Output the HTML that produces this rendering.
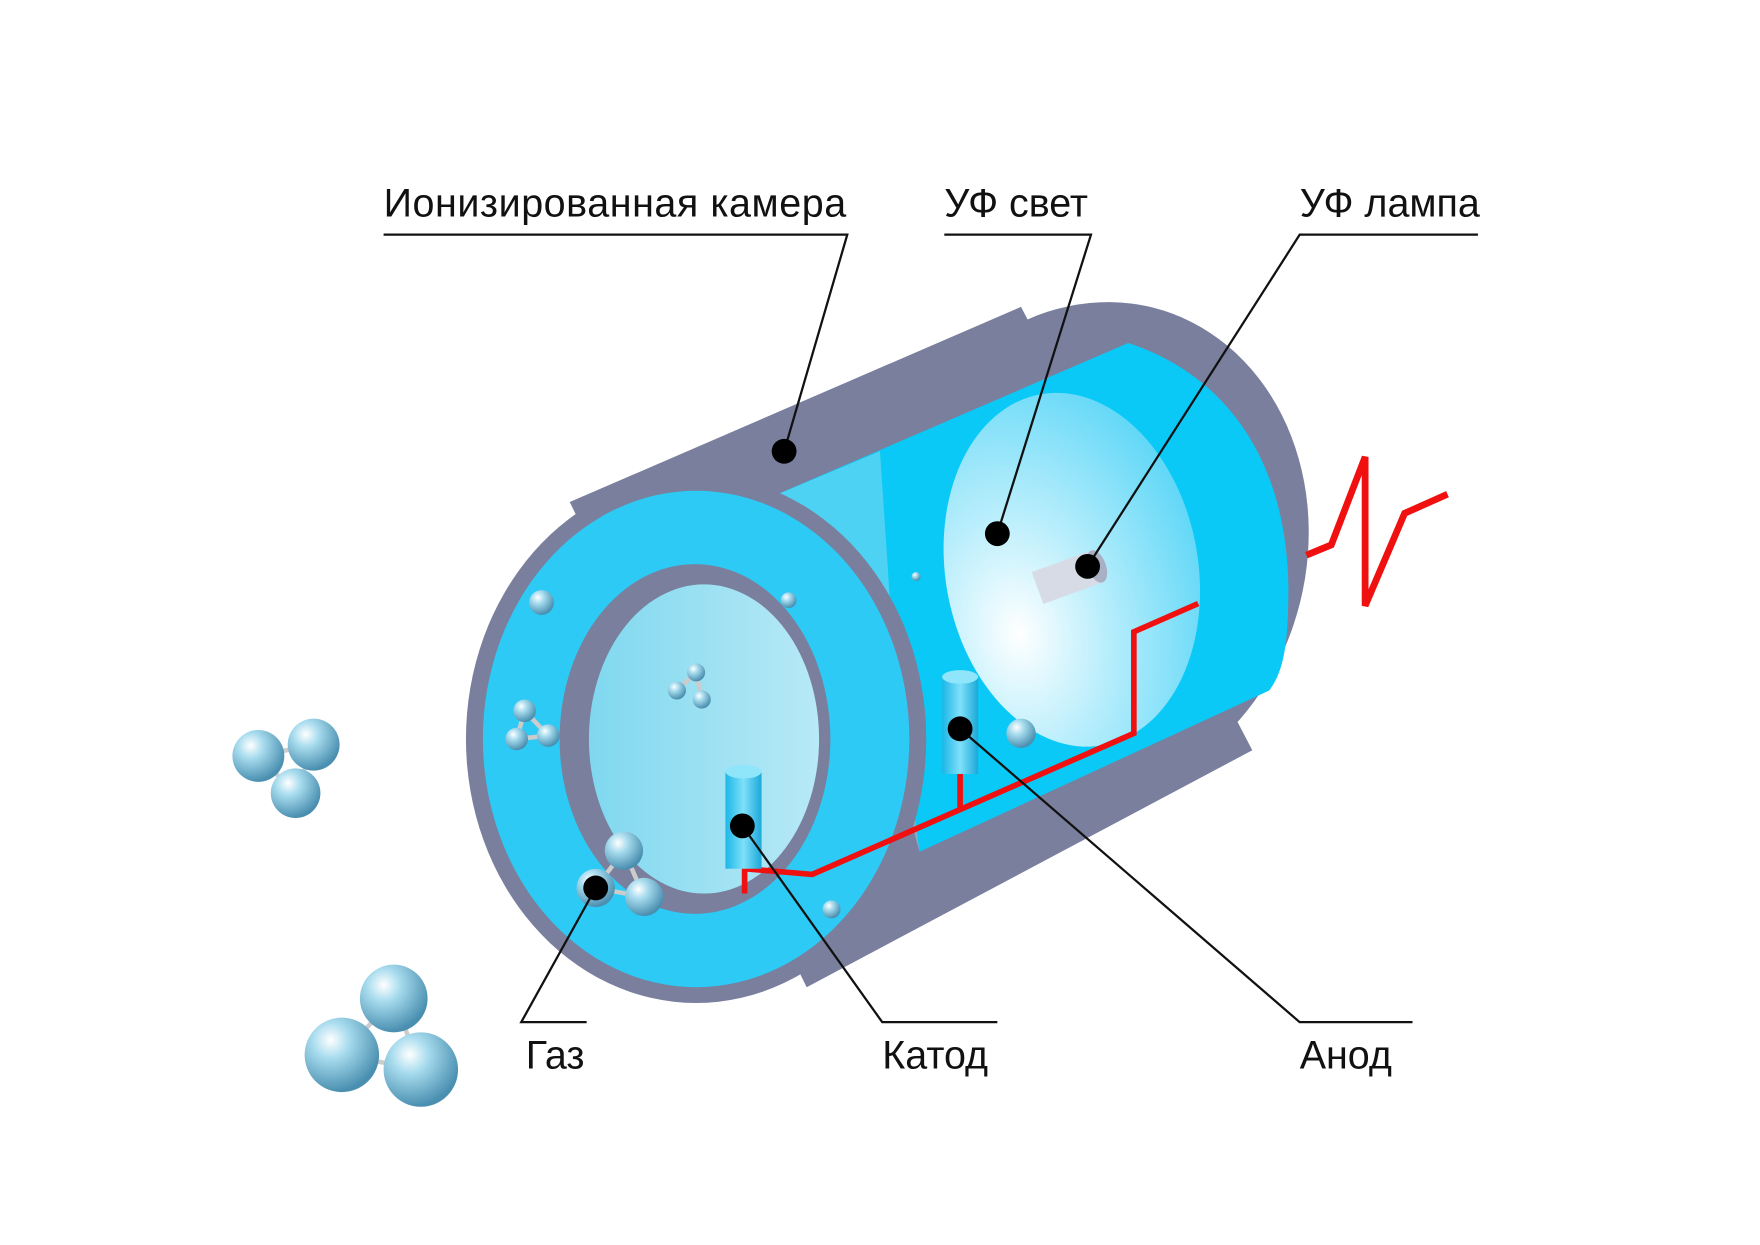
<!DOCTYPE html>
<html><head><meta charset="utf-8"><style>
html,body{margin:0;padding:0;background:#fff;}
svg{display:block;}
text{font-family:"Liberation Sans",sans-serif;font-size:35px;fill:#111;}
</style></head><body>
<svg width="1760" height="1245" viewBox="0 0 1560 1103.5" preserveAspectRatio="none" xmlns="http://www.w3.org/2000/svg">
<defs>
<radialGradient id="sph" cx="35%" cy="30%" r="70%">
<stop offset="0" stop-color="#ffffff"/><stop offset="0.35" stop-color="#a8dcee"/><stop offset="1" stop-color="#4a8fb0"/>
</radialGradient>
<radialGradient id="disk" cx="25%" cy="65%" r="80%">
<stop offset="0" stop-color="#ffffff"/><stop offset="0.4" stop-color="#bdeffc"/><stop offset="1" stop-color="#5fd7f7"/>
</radialGradient>
<linearGradient id="inner" x1="0" y1="0" x2="1" y2="0">
<stop offset="0" stop-color="#7fd8ef"/><stop offset="1" stop-color="#b8e9f6"/>
</linearGradient>
<linearGradient id="cyl" x1="0" y1="0" x2="1" y2="0">
<stop offset="0" stop-color="#1bb6e6"/><stop offset="0.5" stop-color="#7fe0fa"/><stop offset="1" stop-color="#1ba8d8"/>
</linearGradient>
</defs>
<!-- back of body -->
<ellipse cx="968" cy="488" rx="190" ry="222" transform="rotate(14 968 488)" fill="#7a7f9e"/>
<polygon points="505,445 905,272 1110,665 715,875" fill="#7a7f9e"/>
<!-- cutaway interior -->
<path d="M680,442 L1000,304 C1080,330 1140,400 1142,520 C1142,570 1138,595 1125,612 L815,755 L790,560 Z" fill="#0ac9f6"/>
<polygon points="680,442 780,400 800,700 815,755 790,560" fill="#8fdcef" opacity="0.5"/>
<ellipse cx="950" cy="505" rx="112" ry="158" transform="rotate(-10 950 505)" fill="url(#disk)"/>
<!-- front ring -->
<ellipse cx="617" cy="655" rx="204" ry="234" fill="#7a7f9e"/>
<ellipse cx="617" cy="655" rx="189" ry="220" fill="#2ccaf5"/>
<ellipse cx="616" cy="655" rx="120" ry="155" fill="#7a7f9e"/>
<ellipse cx="624" cy="655" rx="102" ry="137" fill="url(#inner)"/>
<!-- red wires -->
<polyline points="660,792 660,770 720,775 1005,650 1005,560 1062,535" fill="none" stroke="#f01010" stroke-width="5"/>
<line x1="851" y1="685" x2="851" y2="718" stroke="#f01010" stroke-width="5"/>
<polyline points="1158,492 1180,483 1210,405 1210,537 1245,455 1283,438" fill="none" stroke="#f01010" stroke-width="6"/>
<!-- electrodes -->
<rect x="643" y="684" width="32" height="86" fill="url(#cyl)"/>
<ellipse cx="659" cy="684" rx="16" ry="6" fill="#8fe6fb"/>
<rect x="835" y="600" width="32" height="86" fill="url(#cyl)"/>
<ellipse cx="851" cy="600" rx="16" ry="6" fill="#8fe6fb"/>
<!-- lamp -->
<g transform="rotate(-20 945 512)"><rect x="918" y="497" width="56" height="30" fill="#d6dbe6"/><ellipse cx="974" cy="512" rx="8" ry="15" fill="#aab0c4"/></g>
<!-- small spheres -->
<circle cx="480" cy="534" r="11" fill="url(#sph)"/>
<circle cx="699" cy="532" r="7" fill="url(#sph)"/>
<circle cx="812" cy="511" r="4" fill="url(#sph)"/>
<circle cx="905" cy="650" r="13" fill="url(#sph)"/>
<circle cx="737" cy="806" r="8" fill="url(#sph)"/>
<g stroke="#ccc" stroke-width="4">
<line x1="465" y1="630" x2="458" y2="655"/><line x1="465" y1="630" x2="486" y2="652"/><line x1="458" y1="655" x2="486" y2="652"/>
<line x1="617" y1="596" x2="600" y2="612"/><line x1="617" y1="596" x2="622" y2="620"/>
<line x1="553" y1="754" x2="528" y2="787"/><line x1="553" y1="754" x2="571" y2="795"/><line x1="528" y1="787" x2="571" y2="795"/>
<line x1="229" y1="670" x2="278" y2="660"/><line x1="229" y1="670" x2="262" y2="703"/><line x1="278" y1="660" x2="262" y2="703"/>
<line x1="349" y1="885" x2="303" y2="935"/><line x1="349" y1="885" x2="373" y2="948"/><line x1="303" y1="935" x2="373" y2="948"/>
</g>
<circle cx="465" cy="630" r="10" fill="url(#sph)"/><circle cx="458" cy="655" r="10" fill="url(#sph)"/><circle cx="486" cy="652" r="10" fill="url(#sph)"/>
<circle cx="617" cy="596" r="8" fill="url(#sph)"/><circle cx="600" cy="612" r="8" fill="url(#sph)"/><circle cx="622" cy="620" r="8" fill="url(#sph)"/>
<circle cx="553" cy="754" r="17" fill="url(#sph)"/><circle cx="528" cy="787" r="17" fill="url(#sph)"/><circle cx="571" cy="795" r="17" fill="url(#sph)"/>
<circle cx="229" cy="670" r="23" fill="url(#sph)"/><circle cx="278" cy="660" r="23" fill="url(#sph)"/><circle cx="262" cy="703" r="22" fill="url(#sph)"/>
<circle cx="349" cy="885" r="30" fill="url(#sph)"/><circle cx="303" cy="935" r="33" fill="url(#sph)"/><circle cx="373" cy="948" r="33" fill="url(#sph)"/>
<!-- leaders -->
<g stroke="#111" stroke-width="2" fill="none">
<polyline points="340,208 751,208 695,400"/>
<polyline points="837,208 967,208 884,473"/>
<polyline points="1310,208 1152,208 964,502"/>
<polyline points="520,906 462,906 528,787"/>
<polyline points="884,906 782,906 658,732"/>
<polyline points="1252,906 1152,906 851,646"/>
</g>
<g fill="#000">
<circle cx="695" cy="400" r="11"/><circle cx="884" cy="473" r="11"/><circle cx="964" cy="502" r="11"/>
<circle cx="528" cy="787" r="11"/><circle cx="658" cy="732" r="11"/><circle cx="851" cy="646" r="11"/>
</g>
<text x="340" y="192" textLength="410">Ионизированная камера</text>
<text x="837" y="192">УФ свет</text>
<text x="1152" y="192">УФ лампа</text>
<text x="466" y="947">Газ</text>
<text x="782" y="947">Катод</text>
<text x="1152" y="947">Анод</text>
</svg>
</body></html>
